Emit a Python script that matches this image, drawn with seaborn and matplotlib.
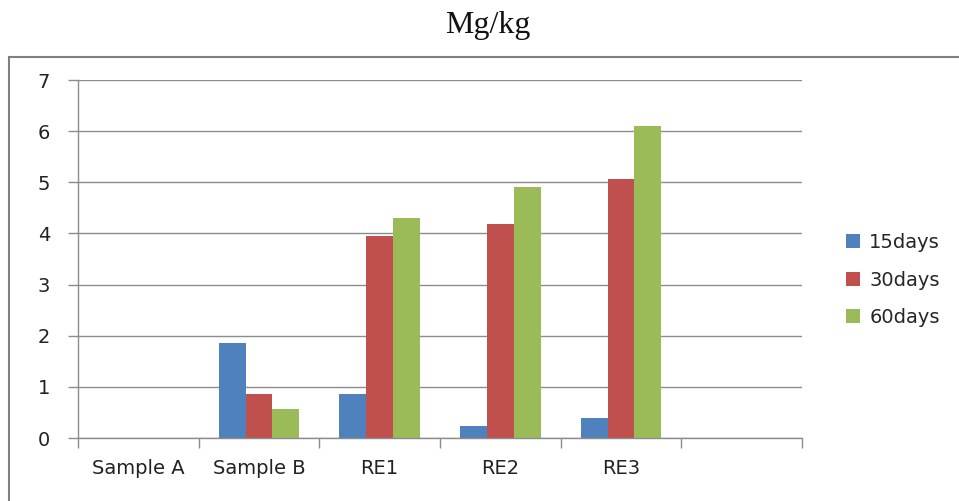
import matplotlib
matplotlib.use("Agg")
import matplotlib.pyplot as plt
import matplotlib.patches as mpatches
import seaborn as sns
import pandas as pd

categories = ["Sample A", "Sample B", "RE1", "RE2", "RE3", ""]
series = ["15days", "30days", "60days"]
data_categories = ["Sample A", "Sample B", "RE1", "RE2", "RE3"]
values_15 = [0, 1.86, 0.86, 0.23, 0.39]
values_30 = [0, 0.86, 3.95, 4.18, 5.06]
values_60 = [0, 0.57, 4.30, 4.91, 6.10]
colors = ["#4F81BD", "#C0504D", "#9BBB59"]
yticks = [0, 1, 2, 3, 4, 5, 6, 7]

rows = []
for s, vals in zip(series, [values_15, values_30, values_60]):
    for c, v in zip(data_categories, vals):
        rows.append({"cat": c, "series": s, "value": v})
df = pd.DataFrame(rows)

sns.set_theme(style="white")
plt.rcParams["font.family"] = ["DejaVu Sans"]

fig = plt.figure(figsize=(9.59, 5.01), dpi=100)
ax = fig.add_axes([78/959, 1-438/501, (802-78)/959, (438-80)/501])

sns.barplot(data=df, x="cat", y="value", hue="series", order=categories,
            hue_order=series, palette=colors, width=0.67, gap=0,
            saturation=1, ax=ax, legend=True, edgecolor="none", linewidth=0)

ax.set_xlim(-0.5, len(categories) - 0.5)
ax.set_ylim(0, 7)
ax.set_yticks(yticks)
ax.set_yticklabels([str(t) for t in yticks], fontsize=14, color="#222222")
ax.yaxis.grid(True, color="#8c8c8c", linewidth=1)
ax.set_axisbelow(True)

# category boundaries as major ticks, labels at centers as minor ticks
ax.set_xticks([i - 0.5 for i in range(len(categories) + 1)])
ax.set_xticklabels([])
ax.set_xticks(list(range(len(categories))), minor=True)
ax.set_xticklabels(categories, minor=True, fontsize=14, color="#222222")
ax.tick_params(axis="x", which="major", length=7, width=1, color="#8c8c8c", direction="out", bottom=True)
ax.tick_params(axis="x", which="minor", length=0, pad=15)
ax.tick_params(axis="y", length=7, width=1, color="#8c8c8c", direction="out", left=True, pad=13)

for side in ["top", "right"]:
    ax.spines[side].set_visible(False)
for side in ["left", "bottom"]:
    ax.spines[side].set_color("#8c8c8c")
    ax.spines[side].set_linewidth(1)

ax.set_xlabel("")
ax.set_ylabel("")

handles, labels = ax.get_legend_handles_labels()
ax.legend(handles, labels, loc="center left", bbox_to_anchor=(0.872, 0.441),
          bbox_transform=fig.transFigure, frameon=False, fontsize=14,
          handlelength=0.7, handleheight=0.7, handletextpad=0.5,
          labelspacing=0.95, borderpad=0)

fig.text(488/959, 1-25/501, "Mg/kg", ha="center", va="center",
         fontsize=23, family="Liberation Serif", color="#111111")

rect = mpatches.Rectangle((9/959, -0.05), 1.1, 1-57/501+0.05,
                          transform=fig.transFigure, fill=False,
                          edgecolor="#7f7f7f", linewidth=1.5, clip_on=False)
fig.patches.append(rect)

fig.savefig("out.png", dpi=100, facecolor="white")
